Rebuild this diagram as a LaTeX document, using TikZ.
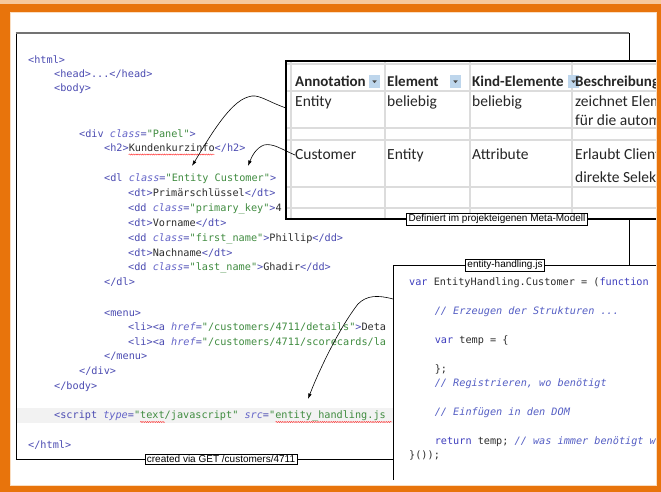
\documentclass[tikz,border=0pt]{standalone}
\usepackage{fontspec}
\setmainfont{Liberation Sans}
\setsansfont{Liberation Sans}
\setmonofont{DejaVu Sans Mono}
\newfontfamily\tabfont{Carlito}
\usetikzlibrary{arrows.meta,decorations.pathmorphing}

\definecolor{frameorange}{RGB}{232,116,12}
\definecolor{framepeach}{RGB}{246,200,156}
\definecolor{framecream}{RGB}{250,222,194}
\definecolor{tagblue}{RGB}{76,76,178}
\definecolor{attrblue}{RGB}{100,100,200}
\definecolor{valgreen}{RGB}{64,140,64}
\definecolor{codetext}{RGB}{45,45,45}
\definecolor{gridgray}{RGB}{220,220,220}
\definecolor{btnblue}{RGB}{190,214,236}
\definecolor{linehl}{RGB}{242,242,242}
\definecolor{kwblue}{RGB}{62,62,190}
\definecolor{cmblue}{RGB}{84,94,196}

% syntax colouring helpers
\newcommand\Tg[1]{\textcolor{tagblue}{#1}}
\newcommand\At[1]{\textcolor{attrblue}{\itshape #1}}
\newcommand\Vl[1]{\textcolor{valgreen}{#1}}
\newcommand\Kw[1]{\textcolor{kwblue}{#1}}
\newcommand\Cm[1]{\textcolor{cmblue}{\itshape #1}}

\tikzset{
  codeline/.style={anchor=base west, inner sep=0pt, text=codetext,
    font=\ttfamily\fontsize{10.2}{12}\selectfont},
  cellhead/.style={anchor=base west, inner sep=0pt, text=black!85,
    font=\tabfont\bfseries\fontsize{15}{18}\selectfont},
  cell/.style={anchor=base west, inner sep=0pt, text=black!85,
    font=\tabfont\fontsize{15.5}{18}\selectfont},
  boxtag/.style={draw=black, fill=white, line width=0.6pt, inner xsep=2pt,
    inner ysep=1.3pt, font=\fontsize{10}{12}\selectfont},
  spell/.style={draw=red!80, line width=0.45pt, decorate,
    decoration={snake, amplitude=0.55pt, segment length=2.2pt}},
  refarrow/.style={draw=black, line width=0.6pt,
    -{Latex[length=5.5pt,width=3.6pt]}},
  ddbutton/.style={fill=btnblue},
}

\begin{document}
\begin{tikzpicture}[x=1pt,y=-1pt]
\useasboundingbox (0,0) rectangle (661,492);
\fill[white] (0,0) rectangle (661,492);

% ---------- HTML page ----------
\fill[linehl] (17,408) rectangle (628,423);

\node[codeline] (h1)  at (28,63.5)  {\Tg{<html>}};
\node[codeline] (h2)  at (54,77.5)  {\Tg{<head>...</head>}};
\node[codeline] (h3)  at (54,91.5)  {\Tg{<body>}};
\node[codeline] (h4)  at (79,137.5) {\Tg{<div }\At{class}\Tg{=}\Vl{"Panel"}\Tg{>}};
\node[codeline] (h5)  at (104,151.5) {\Tg{<h2>}Kundenkurzinfo\Tg{</h2>}};
\node[codeline] (h6)  at (104,181.5) {\Tg{<dl }\At{class}\Tg{=}\Vl{"Entity Customer"}\Tg{>}};
\node[codeline] (h7)  at (128,196.5) {\Tg{<dt>}Primärschlüssel\Tg{</dt>}};
\node[codeline] (h8)  at (128,211.5) {\Tg{<dd }\At{class}\Tg{=}\Vl{"primary\_key"}\Tg{>}4};
\node[codeline] (h9)  at (128,226.5) {\Tg{<dt>}Vorname\Tg{</dt>}};
\node[codeline] (h10) at (128,241.5) {\Tg{<dd }\At{class}\Tg{=}\Vl{"first\_name"}\Tg{>}Phillip\Tg{</dd>}};
\node[codeline] (h11) at (128,256.5) {\Tg{<dt>}Nachname\Tg{</dt>}};
\node[codeline] (h12) at (128,270.5) {\Tg{<dd }\At{class}\Tg{=}\Vl{"last\_name"}\Tg{>}Ghadir\Tg{</dd>}};
\node[codeline] (h13) at (104,285.5) {\Tg{</dl>}};
\node[codeline] (h14) at (104,316.5) {\Tg{<menu>}};
\node[codeline] (h15) at (128,330.5) {\Tg{<li><a }\At{href}\Tg{=}\Vl{"/customers/4711/details"}\Tg{>}Deta};
\node[codeline] (h16) at (128,345.5) {\Tg{<li><a }\At{href}\Tg{=}\Vl{"/customers/4711/scorecards/la}};
\node[codeline] (h17) at (104,359.5) {\Tg{</menu>}};
\node[codeline] (h18) at (79,374.5)  {\Tg{</div>}};
\node[codeline] (h19) at (54,389.5)  {\Tg{</body>}};
\node[codeline] (h20) at (54,418.5)  {\Tg{<script }\At{type}\Tg{=}\Vl{"text/javascript"} \At{src}\Tg{=}\Vl{"entity\_handling.js}};
\node[codeline] (h21) at (28,448.5)  {\Tg{</html>}};

% spell-checker marks
\draw[spell] (128.6,154.5) -- (214.5,154.5);
\draw[spell] (140.2,422) -- (164.8,422);
\draw[spell] (275.5,422) -- (392,422);

% page frame
\draw[black, line width=0.8pt] (16,33) -- (16,459) -- (629,459) -- (629,33);
\draw[black!55, line width=1.6pt] (15.6,33) -- (629.4,33);

% ---------- meta-model table ----------
\fill[white] (286,61) rectangle (661,219);
\begin{scope}
  \clip (286,61) rectangle (661,219);
  \foreach \gx in {291,385,470,572}
    \draw[gridgray, line width=1.2pt] (\gx,61) -- (\gx,219);
  \foreach \gy in {64,91,128,140,187,208}
    \draw[gridgray, line width=1.2pt] (286,\gy) -- (661,\gy);
  \foreach \bx in {369,450,568}{
    \fill[ddbutton] (\bx,75) rectangle (\bx+11,88);
    \fill[black!70] (\bx+3.3,80.5) -- (\bx+7.7,80.5) -- (\bx+5.5,83.2) -- cycle;
  }
  \node[cellhead] (c11) at (295,87)  {Annotation};
  \node[cellhead] (c12) at (387,87)  {Element};
  \node[cellhead] (c13) at (472,87)  {Kind-Elemente};
  \node[cellhead] (c14) at (575,87)  {Beschreibung};
  \node[cell] (c21) at (295,107) {Entity};
  \node[cell] (c22) at (387,107) {beliebig};
  \node[cell] (c23) at (472,107) {beliebig};
  \node[cell] (c24) at (575,107) {zeichnet Elemente};
  \node[cell] (c24b) at (575,126) {für die automatische};
  \node[cell] (c31) at (295,160) {Customer};
  \node[cell] (c32) at (387,160) {Entity};
  \node[cell] (c33) at (472,160) {Attribute};
  \node[cell] (c34) at (575,160) {Erlaubt Clients};
  \node[cell] (c34b) at (575,182) {direkte Selektion};
\end{scope}
\draw[black, line width=1.2pt] (661,61) -- (286,61) -- (286,219) -- (661,219);

% ---------- script file ----------
\fill[white] (393,265) rectangle (661,486);
\draw[black, line width=0.8pt] (393,480) -- (393,265) -- (661,265);

\node[codeline] (j1) at (409,285.5)   {\Kw{var} EntityHandling.Customer = (\Kw{function} () \{};
\node[codeline] (j2) at (434.6,314.5) {\Cm{// Erzeugen der Strukturen ...}};
\node[codeline] (j3) at (434.6,343.5) {\Kw{var} temp = \{};
\node[codeline] (j4) at (434.6,372)   {\};};
\node[codeline] (j5) at (434.6,386.5) {\Cm{// Registrieren, wo benötigt}};
\node[codeline] (j6) at (434.6,415)   {\Cm{// Einfügen in den DOM}};
\node[codeline] (j7) at (434.6,444)   {\Kw{return} temp; \Cm{// was immer benötigt wird}};
\node[codeline] (j8) at (409,458.5)   {\}());};

% ---------- captions ----------
\node[boxtag] (capPage)  at (221,459) {created via GET /customers/4711};
\node[boxtag] (capModel) at (497,219) {Definiert im projekteigenen Meta-Modell};
\node[boxtag] (capJs)    at (505,265) {entity-handling.js};

% ---------- references ----------
\coordinate (entityRow) at (286,108);
\coordinate (jsEdge)    at (393,299);
\coordinate (dlEntity)  at (192,166);
\coordinate (dlCust)    at (248,166);
\coordinate (scriptSrc) at (308,399);

\draw[refarrow] (entityRow) .. controls (266,101) and (258,93) .. (248,97)
                  .. controls (230,102) and (210,136) .. (dlEntity);
\draw[refarrow] (c31.west) .. controls (281,149) and (273,143) .. (264,145)
                  .. controls (256,148) and (252,156) .. (dlCust);
\draw[refarrow] (jsEdge) .. controls (378,295) and (367,295) .. (358,304)
                  .. controls (340,327) and (320,368) .. (scriptSrc);

% ---------- outer frame ----------
\fill[frameorange, even odd rule] (0,0) rectangle (661,492) (10,12) rectangle (657,486);
\fill[framepeach] (0,0) rectangle (661,4);
\draw[framecream, line width=1.2pt] (10.6,12.6) rectangle (656.4,485.4);
\end{tikzpicture}
\end{document}
